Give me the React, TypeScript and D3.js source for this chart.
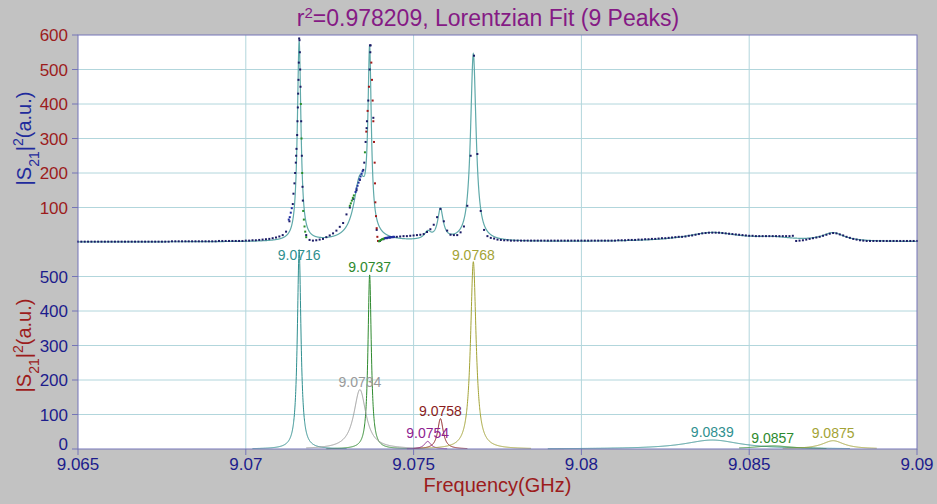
import React from "react";
import * as d3 from "d3";

// ---------- data ----------
const title = "=0.978209, Lorentzian Fit (9 Peaks)";
const xTicks = [9.065, 9.07, 9.075, 9.08, 9.085, 9.09];
const xTickLabels = ["9.065", "9.07", "9.075", "9.08", "9.085", "9.09"];
const upperTicks = [100, 200, 300, 400, 500, 600];
const lowerTicks = [0, 100, 200, 300, 400, 500];

// fitted Lorentzian peaks
const peakCenters = [9.07159, 9.07369, 9.0734, 9.07542, 9.0758, 9.07678, 9.0839, 9.0857, 9.0875];
const peakLabels = ["9.0716", "9.0737", "9.0734", "9.0754", "9.0758", "9.0768", "9.0839", "9.0857", "9.0875"];
const peakHeights = [578, 505, 172, 22, 88, 543, 26, 9, 24];
const peakHalfWidths = [0.000065, 0.00006, 0.00022, 0.00012, 0.0001, 0.0001, 0.001, 0.0007, 0.0004];
const peakLo = [9.0702, 9.0724, 9.0718, 9.0748, 9.075, 9.0752, 9.079, 9.0847, 9.086];
const peakHi = [9.073, 9.075, 9.0752, 9.076, 9.0766, 9.0785, 9.088, 9.0873, 9.0888];
const peakColors = ["#2f8f8f", "#2e8a2e", "#9a9a9a", "#8e2290", "#8b1c1c", "#a3a335", "#2f8f8f", "#2e8a2e", "#a3a335"];

// measured data (sampled every 0.0001 GHz from 9.065)
const dataStart = 9.065;
const dataStep = 0.0001;
const dataValues = [
  1, 1, 1, 1, 1, 1, 1, 1, 1, 1,
  1, 1, 1, 1, 1, 1, 1, 1, 1, 1,
  1, 1, 1, 1, 1, 1, 1, 1, 2, 2,
  2, 2, 2, 2, 2, 2, 2, 2, 2, 2,
  2, 2, 3, 3, 3, 3, 3, 3, 3, 3,
  4, 4, 5, 5, 6, 7, 8, 9, 11, 13,
  16, 20, 30, 60, 110, 250, 585, 120, 20, 6,
  4, 5, 7, 9, 14, 19, 25, 33, 44, 55,
  80, 100, 125, 150, 180, 209, 330, 570, 360, 35,
  3, 8, 11, 13, 14, 15, 16, 17, 17, 18,
  19, 20, 21, 23, 29, 37, 50, 72, 96, 60,
  33, 21, 20, 20, 28, 45, 105, 250, 540, 255,
  90, 35, 17, 12, 10, 7, 6, 5, 5, 4,
  4, 4, 4, 4, 4, 4, 4, 4, 4, 4,
  4, 4, 4, 4, 4, 4, 4, 4, 4, 4,
  4, 4, 4, 4, 4, 4, 4, 4, 4, 4,
  4, 5, 5, 5, 6, 6, 6, 7, 7, 8,
  8, 9, 9, 10, 11, 11, 12, 13, 14, 15,
  15, 16, 18, 19, 21, 23, 25, 26, 27, 27,
  27, 27, 26, 25, 24, 23, 22, 21, 20, 19,
  18, 18, 17, 17, 17, 17, 17, 17, 17, 17,
  17, 17, 17, 18, 3, 4, 5, 7, 9, 11,
  13, 15, 18, 21, 24, 26, 25, 22, 19, 15,
  12, 9, 7, 5, 4, 3, 3, 3, 3, 3,
  3, 3, 3, 3, 3, 3, 3, 3, 3, 3,
  3,
];

// densely sampled data near the sharp peaks: [freq, value, colour index]
const denseData: [number, number, number][] = [
  [9.07128, 65, 1], [9.07131, 72, 1], [9.07134, 85, 1], [9.07137, 98, 1],
  [9.07142, 140, 0], [9.07145, 170, 0], [9.07147, 200, 0], [9.07149, 230, 0], [9.07151, 270, 0],
  [9.07153, 310, 0], [9.07154, 350, 0], [9.07155, 390, 0], [9.07156, 430, 0], [9.07157, 470, 0],
  [9.07158, 520, 0], [9.07159, 590, 0],
  [9.07161, 550, 0], [9.07162, 500, 0], [9.07163, 450, 0], [9.07164, 400, 2], [9.07165, 350, 0],
  [9.07166, 300, 2], [9.07167, 250, 0], [9.07168, 200, 2], [9.07169, 160, 0], [9.07171, 90, 2],
  [9.07173, 65, 2], [9.07175, 45, 2], [9.07177, 30, 2], [9.0718, 14, 2],
  [9.0731, 105, 2], [9.07313, 112, 2], [9.07316, 120, 2], [9.07319, 128, 2], [9.07322, 135, 2],
  [9.07327, 145, 1], [9.0733, 155, 1], [9.07333, 163, 1], [9.07336, 172, 1], [9.07339, 182, 1],
  [9.07342, 190, 1], [9.07345, 198, 1], [9.07348, 205, 1],
  [9.07353, 230, 0], [9.07355, 260, 2], [9.07357, 290, 0], [9.07359, 320, 3], [9.07361, 350, 0],
  [9.07363, 380, 3], [9.07365, 410, 0], [9.07367, 450, 3], [9.07369, 500, 0], [9.07371, 550, 0],
  [9.07372, 570, 0],
  [9.07374, 520, 3], [9.07376, 470, 3], [9.07378, 410, 3], [9.0738, 350, 3], [9.07382, 290, 3],
  [9.07384, 230, 3], [9.07385, 170, 3], [9.07386, 115, 3], [9.07388, 75, 3], [9.0739, 40, 3],
  [9.07392, 15, 3], [9.07394, 3, 3],
  [9.07397, 2, 2], [9.074, 4, 2], [9.07403, 6, 2], [9.07406, 8, 2], [9.07409, 9, 2], [9.07412, 10, 2],
  [9.07415, 11, 1], [9.07418, 12, 1], [9.07421, 12, 1], [9.07424, 13, 1], [9.07427, 13, 1],
  [9.0743, 14, 1], [9.07433, 14, 1], [9.07436, 14, 1], [9.07439, 15, 1], [9.07442, 15, 1],
];
const dotColors = ["#1b1b66", "#1f2f9f", "#2a8f2a", "#a31818"];

// ---------- layout ----------
const W = 937, H = 504;
const left = 78, right = 917, top = 35, mid = 242, bottom = 449;
const FONT = "'Liberation Sans', Arial, sans-serif";
const AXIS = "#7474b8";
const GRID = "#b2d6dc";
const RED = "#9c1c1c";
const NAVY = "#1c1c8c";

function lorentz(f: number, i: number) {
  const u = (f - peakCenters[i]) / peakHalfWidths[i];
  return peakHeights[i] / (1 + u * u);
}

export default function App() {
  const x = d3.scaleLinear().domain([9.065, 9.09]).range([left, right]);
  const yU = d3.scaleLinear().domain([0, 600]).range([mid, top]);
  const yL = d3.scaleLinear().domain([0, 600]).range([bottom, mid]);

  const fine = d3.range(9.065, 9.09 + 1e-9, 0.000004);
  const fitLine = d3
    .line<number>()
    .x((f) => x(f))
    .y((f) => yU(peakCenters.reduce((s, _c, i) => s + lorentz(f, i), 0)));

  const peakPaths = peakCenters.map((_c, i) => {
    const fs = d3.range(peakLo[i], peakHi[i] + 1e-9, 0.000004);
    return d3
      .line<number>()
      .x((f) => x(f))
      .y((f) => yL(lorentz(f, i)))(fs);
  });

  const basePts = dataValues.map((v, i) => [dataStart + i * dataStep, v] as [number, number]);

  return (
    <svg
      width={W}
      height={H}
      style={{ position: "absolute", left: 0, top: 0, display: "block" }}
      fontFamily={FONT}
    >
      <rect x={0} y={0} width={W} height={H} fill="#c2c2c2" />
      <rect x={left} y={top} width={right - left} height={bottom - top} fill="#ffffff" />

      {/* grid */}
      {xTicks.slice(1, -1).map((t) => (
        <line key={"vg" + t} x1={x(t)} x2={x(t)} y1={top} y2={bottom} stroke={GRID} strokeWidth={1} />
      ))}
      {upperTicks.slice(0, -1).map((t) => (
        <line key={"ug" + t} x1={left} x2={right} y1={yU(t)} y2={yU(t)} stroke={GRID} strokeWidth={1} />
      ))}
      {lowerTicks.slice(1).map((t) => (
        <line key={"lg" + t} x1={left} x2={right} y1={yL(t)} y2={yL(t)} stroke={GRID} strokeWidth={1} />
      ))}

      {/* upper fit */}
      <path d={fitLine(fine) || ""} fill="none" stroke="#5fa9a9" strokeWidth={1.2} />

      {/* data dots */}
      {basePts.map(([f, v], i) => (
        <rect key={"b" + i} x={x(f) - 1} y={yU(v) - 1} width={2} height={2} fill={dotColors[0]} />
      ))}
      {denseData.map(([f, v, c], i) => (
        <rect key={"d" + i} x={x(f) - 1} y={yU(v) - 1} width={2} height={2} fill={dotColors[c]} />
      ))}

      {/* lower individual peaks */}
      {peakPaths.map((p, i) => (
        <path key={"p" + i} d={p || ""} fill="none" stroke={peakColors[i]} strokeWidth={1} />
      ))}
      {peakCenters.map((c, i) => {
        const py = Math.max(yL(peakHeights[i]) - 8, mid + 13);
        return (
          <text
            key={"pl" + i}
            x={x(c)}
            y={py}
            dy="0.35em"
            textAnchor="middle"
            fontSize={14}
            fill={peakColors[i]}
          >
            {peakLabels[i]}
          </text>
        );
      })}

      {/* frame */}
      <rect x={left} y={top} width={right - left} height={bottom - top} fill="none" stroke={AXIS} strokeWidth={1} />

      {/* y ticks */}
      {upperTicks.map((t) => (
        <g key={"ut" + t}>
          <line x1={left - 6} x2={left} y1={yU(t)} y2={yU(t)} stroke={AXIS} />
          <text x={left - 10} y={yU(t)} dy="0.36em" textAnchor="end" fontSize={17} fill={RED}>
            {t}
          </text>
        </g>
      ))}
      {lowerTicks.map((t) => (
        <g key={"lt" + t}>
          <line x1={left - 6} x2={left} y1={yL(t)} y2={yL(t)} stroke={AXIS} />
          <text x={left - 10} y={yL(t) - (t === 0 ? 5 : 0)} dy="0.36em" textAnchor="end" fontSize={17} fill={NAVY}>
            {t}
          </text>
        </g>
      ))}
      {xTicks.map((t, i) => (
        <g key={"xt" + t}>
          <line x1={x(t)} x2={x(t)} y1={bottom} y2={bottom + 6} stroke={AXIS} />
          <text x={x(t)} y={bottom + 21} textAnchor="middle" fontSize={17} fill={NAVY}>
            {xTickLabels[i]}
          </text>
        </g>
      ))}

      {/* axis titles */}
      <text transform={`translate(31,${(top + mid) / 2}) rotate(-90)`} textAnchor="middle" fontSize={20} fill="#1f2b9c">
        |S<tspan baselineShift="sub" fontSize={14}>21</tspan>|<tspan baselineShift="super" fontSize={14}>2</tspan>(a.u.)
      </text>
      <text transform={`translate(31,${(mid + bottom) / 2}) rotate(-90)`} textAnchor="middle" fontSize={20} fill={RED}>
        |S<tspan baselineShift="sub" fontSize={14}>21</tspan>|<tspan baselineShift="super" fontSize={14}>2</tspan>(a.u.)
      </text>
      <text x={(left + right) / 2} y={492} textAnchor="middle" fontSize={20} fill={RED}>
        Frequency(GHz)
      </text>
      <text x={488} y={26} textAnchor="middle" fontSize={23} fill="#851a85">
        r<tspan baselineShift="super" fontSize={15}>2</tspan>
        {title}
      </text>
    </svg>
  );
}
